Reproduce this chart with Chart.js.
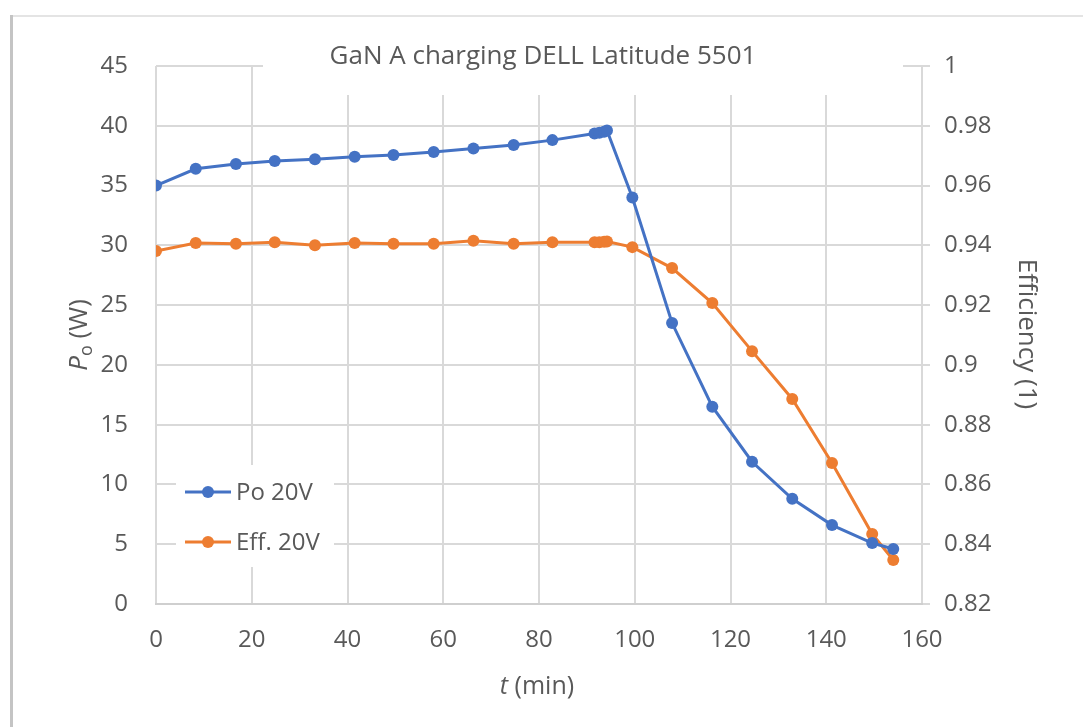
<!DOCTYPE html>
<html>
<head>
<meta charset="utf-8">
<script src="https://cdn.jsdelivr.net/npm/chart.js@4/dist/chart.umd.min.js"></script>
<style>
  html, body { margin: 0; padding: 0; background: #fff; }
  canvas { display: block; }
</style>
</head>
<body>
<canvas id="chart" width="1083" height="727"></canvas>
<script>
// time (min) of each sample
var times = [0, 8.3, 16.7, 24.8, 33.2, 41.5, 49.6, 58, 66.3, 74.7, 82.8,
             91.6, 92.6, 93.6, 94.2, 99.5, 107.8, 116.2, 124.5, 132.9, 141.2, 149.6, 154];
// output power (W)
var po20 = [35.0, 36.4, 36.8, 37.05, 37.2, 37.4, 37.55, 37.8, 38.1, 38.4, 38.8,
            39.35, 39.42, 39.5, 39.6, 34.0, 23.5, 16.5, 11.9, 8.8, 6.6, 5.1, 4.6];
// efficiency (1)
var eff20 = [0.9381, 0.9408, 0.9405, 0.9410, 0.9400, 0.9408, 0.9405, 0.9405, 0.9415, 0.9405, 0.9410,
             0.9410, 0.9410, 0.9412, 0.9413, 0.9394, 0.9324, 0.9207, 0.9046, 0.8886, 0.8672, 0.8434, 0.8347];

var FONT = "'Open Sans', sans-serif";
var GREY = '#595959';
var BLUE = '#4472C4';
var ORANGE = '#ED7D31';

function pairs(xs, ys) {
    return xs.map(function (x, i) { return { x: x, y: ys[i] }; });
}

// title box, legend, axis titles and the outer frame, drawn like the Excel original
var decor = {
    id: 'decor',
    beforeDatasetsDraw: function (chart) {
        var c = chart.ctx;
        c.save();
        c.fillStyle = '#fff';
        c.fillRect(263, 28, 640, 67);
        c.fillRect(176, 465, 158, 102);
        c.fillStyle = GREY;
        c.font = '26px ' + FONT;
        c.textAlign = 'center';
        c.textBaseline = 'middle';
        c.fillText('GaN A charging DELL Latitude 5501', 543, 57);

        // legend
        var items = [['Po 20V', BLUE, 492], ['Eff. 20V', ORANGE, 542]];
        items.forEach(function (it) {
            c.strokeStyle = it[1];
            c.lineWidth = 3;
            c.beginPath();
            c.moveTo(185, it[2]);
            c.lineTo(231, it[2]);
            c.stroke();
            c.fillStyle = it[1];
            c.beginPath();
            c.arc(208, it[2], 6, 0, Math.PI * 2);
            c.fill();
            c.fillStyle = GREY;
            c.font = '24px ' + FONT;
            c.textAlign = 'left';
            c.fillText(it[0], 236, it[2] + 1);
        });
        c.restore();
    },
    afterDraw: function (chart) {
        var c = chart.ctx;
        c.save();
        c.fillStyle = GREY;
        c.textBaseline = 'middle';

        // x title: t (min)
        var a = 't', b = ' (min)';
        c.font = 'italic 25px ' + FONT;
        var wa = c.measureText(a).width;
        c.font = '25px ' + FONT;
        var wb = c.measureText(b).width;
        var x0 = 537 - (wa + wb) / 2;
        c.textAlign = 'left';
        c.font = 'italic 25px ' + FONT;
        c.fillText(a, x0, 687);
        c.font = '25px ' + FONT;
        c.fillText(b, x0 + wa, 687);

        // left title: Po (W)
        c.save();
        c.translate(80, 335);
        c.rotate(-Math.PI / 2);
        c.font = 'italic 26px ' + FONT;
        var wp = c.measureText('P').width;
        c.font = '18px ' + FONT;
        var wo = c.measureText('o').width;
        c.font = '26px ' + FONT;
        var ww = c.measureText(' (W)').width;
        var s = -(wp + wo + ww) / 2;
        c.font = 'italic 26px ' + FONT;
        c.fillText('P', s, 0);
        c.font = '18px ' + FONT;
        c.fillText('o', s + wp, 7);
        c.font = '26px ' + FONT;
        c.fillText(' (W)', s + wp + wo, 0);
        c.restore();

        // right title
        c.save();
        c.translate(1026, 334);
        c.rotate(Math.PI / 2);
        c.textAlign = 'center';
        c.font = '26px ' + FONT;
        c.fillText('Efficiency (1)', 0, 0);
        c.restore();

        // outer frame
        c.fillStyle = '#e4e4e4';
        c.fillRect(11, 15, 1072, 2);
        c.fillStyle = '#c4c4c4';
        c.fillRect(10, 15, 3, 712);
        c.restore();
    }
};

new Chart(document.getElementById('chart'), {
    type: 'scatter',
    data: {
        datasets: [{
            label: 'Po 20V',
            data: pairs(times, po20),
            yAxisID: 'y',
            showLine: true,
            borderColor: BLUE,
            backgroundColor: BLUE,
            borderWidth: 3,
            pointRadius: 6,
            pointBorderWidth: 0
        }, {
            label: 'Eff. 20V',
            data: pairs(times, eff20),
            yAxisID: 'y1',
            showLine: true,
            borderColor: ORANGE,
            backgroundColor: ORANGE,
            borderWidth: 3,
            pointRadius: 6,
            pointBorderWidth: 0
        }]
    },
    options: {
        responsive: false,
        animation: false,
        layout: { padding: { top: 66, left: 0, right: 0, bottom: 0 } },
        plugins: {
            legend: { display: false },
            tooltip: { enabled: false }
        },
        scales: {
            x: {
                type: 'linear',
                min: 0,
                max: 160,
                ticks: { stepSize: 20, color: GREY, font: { family: FONT, size: 24 }, padding: 22 },
                grid: { color: '#d9d9d9', lineWidth: 2, drawTicks: false },
                border: { color: '#cfcfcf', width: 2 },
                afterFit: function (s) { s.height = 727 - 604; }
            },
            y: {
                position: 'left',
                min: 0,
                max: 45,
                ticks: { stepSize: 5, color: GREY, font: { family: FONT, size: 24 }, padding: 28 },
                grid: { color: '#d9d9d9', lineWidth: 2, drawTicks: false },
                border: { display: false },
                afterFit: function (s) { s.width = 156; }
            },
            y1: {
                position: 'right',
                min: 0.82,
                max: 1,
                ticks: {
                    stepSize: 0.02,
                    color: GREY,
                    font: { family: FONT, size: 24 },
                    padding: 14,
                    callback: function (v) { return +v.toFixed(2); }
                },
                grid: { drawOnChartArea: false, color: '#d9d9d9', lineWidth: 2, tickLength: 8 },
                border: { display: false },
                afterFit: function (s) { s.width = 1083 - 922; }
            }
        }
    },
    plugins: [decor]
});
</script>
</body>
</html>
